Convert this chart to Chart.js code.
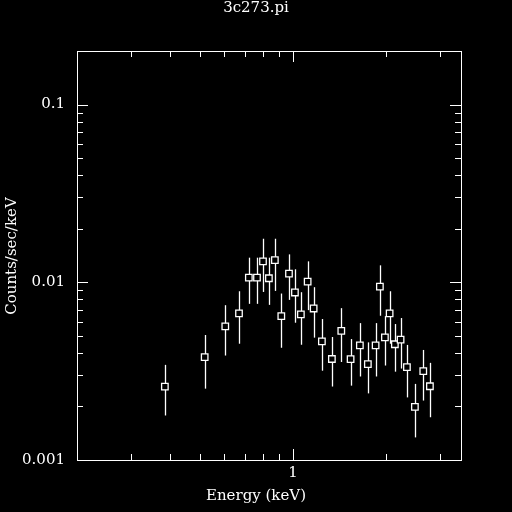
<!DOCTYPE html>
<html><head><meta charset="utf-8">
<script src="https://cdn.jsdelivr.net/npm/chart.js@4/dist/chart.umd.min.js"></script>
<style>html,body{margin:0;padding:0;background:#000;}#w{width:512px;height:512px;}</style>
</head><body><div id="w"><canvas id="c"></canvas></div>
<script>
const energy = [0.385,0.518,0.604,0.669,0.720,0.765,0.800,0.836,0.874,0.917,0.971,1.015,1.061,1.116,1.167,1.241,1.337,1.434,1.537,1.647,1.748,1.852,1.912,1.985,2.056,2.138,2.231,2.339,2.482,2.642,2.776];
const counts = [0.00259,0.00379,0.00565,0.00668,0.01063,0.01063,0.01311,0.01053,0.01333,0.00645,0.01119,0.00876,0.00659,0.01009,0.00712,0.00465,0.00370,0.00533,0.00369,0.00442,0.00346,0.00442,0.00946,0.00490,0.00668,0.00448,0.00475,0.00333,0.00199,0.00316,0.00260];
const errHigh = [0.00343,0.00505,0.00743,0.00890,0.01375,0.01375,0.01757,0.01375,0.01757,0.00864,0.01435,0.01183,0.00879,0.01311,0.00938,0.00621,0.00492,0.00715,0.00479,0.00589,0.00459,0.00589,0.01245,0.00645,0.00890,0.00582,0.00629,0.00444,0.00268,0.00416,0.00352];
const errLow = [0.00178,0.00252,0.00387,0.00451,0.00756,0.00756,0.00882,0.00746,0.00894,0.00428,0.00796,0.00592,0.00445,0.00697,0.00488,0.00318,0.00259,0.00356,0.00262,0.00295,0.00237,0.00295,0.00648,0.00340,0.00451,0.00314,0.00327,0.00225,0.00134,0.00216,0.00174];
const xTickLabels = ['1'];
const yTickLabels = ['0.001','0.01','0.1'];
const titleText = '3c273.pi';
const xTitle = 'Energy (keV)';
const yTitle = 'Counts/sec/keV';

const FONT = '"DejaVu Serif", "Liberation Serif", serif';
const pts = energy.map((e,i)=>({x:e,y:counts[i]}));

const deco = {
  id:'deco',
  beforeDatasetsDraw(ch){
    const c=ch.ctx, xs=ch.scales.x, ys=ch.scales.y, a=ch.chartArea;
    c.save(); c.strokeStyle='#fff'; c.lineWidth=1.3;
    energy.forEach((e,i)=>{
      const px=Math.round(xs.getPixelForValue(e))+0.5;
      c.beginPath(); c.moveTo(px,Math.min(a.bottom,ys.getPixelForValue(errLow[i])));
      c.lineTo(px,ys.getPixelForValue(errHigh[i])); c.stroke();
    });
    c.restore();
  },
  afterDraw(ch){
    const c=ch.ctx, xs=ch.scales.x, ys=ch.scales.y, a=ch.chartArea;
    c.save(); c.strokeStyle='#fff'; c.lineWidth=1;
    c.strokeRect(a.left+0.5,a.top+0.5,a.right-a.left,a.bottom-a.top);
    const line=(x1,y1,x2,y2)=>{c.beginPath();c.moveTo(x1,y1);c.lineTo(x2,y2);c.stroke();};
    for(const v of [0.2,0.3,0.4,0.5,0.6,0.7,0.8,0.9,1,2,3]){
      const p=Math.round(xs.getPixelForValue(v))+0.5;
      const L=(v===1)?11:6;
      line(p,a.bottom,p,a.bottom-L); line(p,a.top,p,a.top+L);
    }
    for(let d=0.001; d<0.2; d*=10){
      for(let m=1;m<10;m++){
        const v=d*m; if(v>0.2+1e-9) break;
        const p=Math.round(ys.getPixelForValue(v))+0.5;
        const L=(m===1)?11:6;
        line(a.left,p,a.left+L,p); line(a.right,p,a.right-L,p);
      }
    }
    c.fillStyle='#fff'; c.font='15px '+FONT; c.textAlign='center';
    c.textBaseline='middle';
    c.fillText(titleText,256,8);
    c.fillText(xTitle,256,496);
    c.fillText(xTickLabels[0],xs.getPixelForValue(Number(xTickLabels[0])),473);
    c.textAlign='right';
    yTickLabels.forEach(t=>c.fillText(t,65,ys.getPixelForValue(Number(t))));
    c.translate(12,256); c.rotate(-Math.PI/2); c.textAlign='center';
    c.fillText(yTitle,0,0);
    c.restore();
  }
};

new Chart(document.getElementById('c'),{
  type:'scatter',
  data:{datasets:[{data:pts,pointStyle:'rect',pointRadius:4.6,pointBackgroundColor:'#000',pointBorderColor:'#fff',pointBorderWidth:1.3}]},
  options:{
    responsive:true,maintainAspectRatio:false,animation:false,devicePixelRatio:1,
    layout:{padding:{top:51,right:51,left:0,bottom:0}},
    plugins:{legend:{display:false},tooltip:{enabled:false}},
    scales:{
      x:{type:'logarithmic',min:0.2,max:3.5,grid:{display:false},border:{display:false},ticks:{display:false},
         afterFit(s){s.height=52;}},
      y:{type:'logarithmic',min:0.001,max:0.2,grid:{display:false},border:{display:false},ticks:{display:false},
         afterFit(s){s.width=77;}}
    }
  },
  plugins:[deco]
});
</script></body></html>
